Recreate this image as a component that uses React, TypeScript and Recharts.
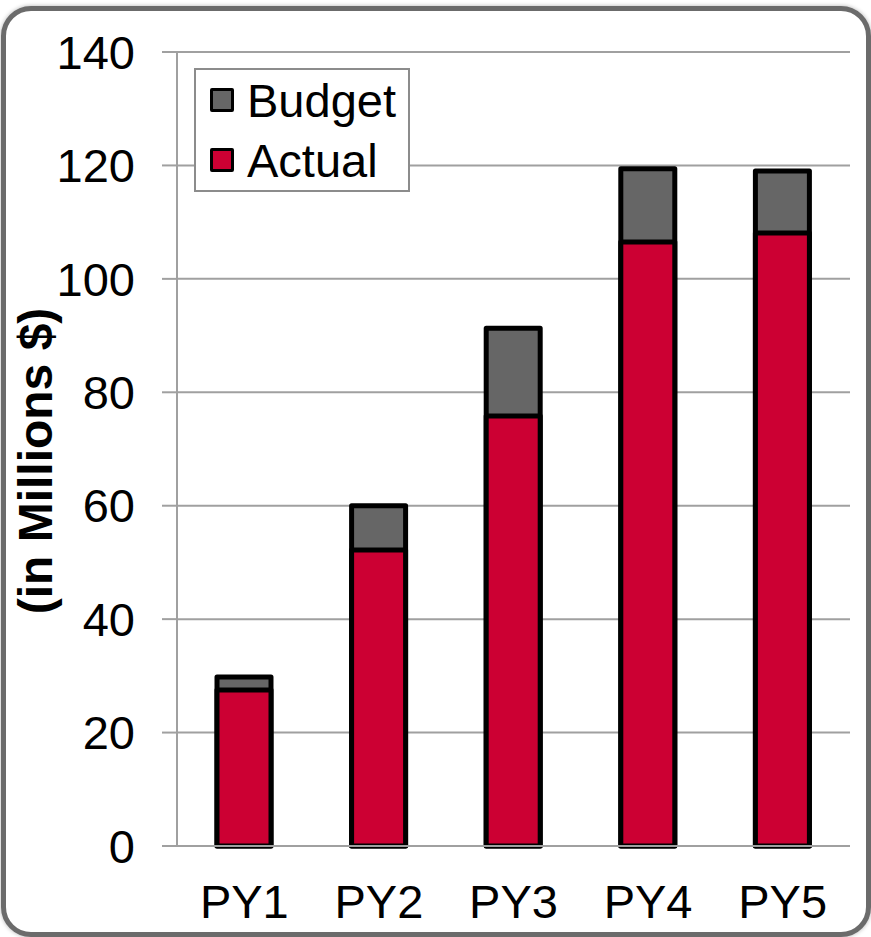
import React from "react";
import { BarChart, Bar, XAxis, YAxis, CartesianGrid, Legend } from "recharts";

const years = ["PY1", "PY2", "PY3", "PY4", "PY5"];
const budget = [29.8, 60, 91.3, 119.4, 119];
const actual = [27.5, 52.2, 75.8, 106.5, 108.1];
const yTicks = [0, 20, 40, 60, 80, 100, 120, 140];
const bounds = [0, 1, 2, 3, 4, 5];
const legendOrder = ["Budget", "Actual"];

const data = years.map((name, i) => ({
  name,
  budget: budget[i],
  actual: actual[i],
  pos: i + 0.5,
}));

const FONT = "'Liberation Sans', Arial, Helvetica, sans-serif";
const GRID = "#a0a0a0";

const renderLegend = (props: any) => {
  const items = [...(props.payload || [])].sort(
    (a: any, b: any) => legendOrder.indexOf(a.value) - legendOrder.indexOf(b.value)
  );
  return (
    <div
      style={{
        border: "2px solid #8c8c8c",
        background: "#fff",
        width: 216,
        height: 124,
        boxSizing: "border-box",
        paddingLeft: 14,
        fontFamily: FONT,
        fontSize: 47,
      }}
    >
      {items.map((entry: any) => (
        <div
          key={entry.value}
          style={{ display: "flex", alignItems: "center", height: 60 }}
        >
          <span
            style={{
              display: "inline-block",
              width: 24,
              height: 24,
              boxSizing: "border-box",
              border: "3px solid #000",
              borderRadius: 2,
              background: entry.color,
              marginRight: 13,
            }}
          />
          <span style={{ color: "#000", lineHeight: 1 }}>{entry.value}</span>
        </div>
      ))}
    </div>
  );
};

const YLabel = (props: any) => {
  const vb = props.viewBox || {};
  const cx = 35;
  const cy = vb.y + vb.height / 2 + 12;
  return (
    <text
      x={cx}
      y={cy}
      transform={`rotate(-90, ${cx}, ${cy})`}
      textAnchor="middle"
      dominantBaseline="central"
      fontFamily={FONT}
      fontWeight="bold"
      fontSize={48}
      fill="#000"
    >
      (in Millions $)
    </text>
  );
};

export default function App() {
  return (
    <div
      style={{
        position: "absolute",
        left: 0,
        top: 0,
        width: 871,
        height: 937,
        background: "#fff",
        overflow: "hidden",
      }}
    >
      <div
        style={{
          position: "absolute",
          left: 1,
          top: 6,
          width: 870,
          height: 931,
          boxSizing: "border-box",
          border: "5px solid #6b6b6b",
          borderRadius: 30,
          boxShadow: "0 0 4px rgba(0,0,0,0.3)",
          background: "#fff",
        }}
      />
      <div style={{ position: "absolute", left: 0, top: 0 }}>
        <BarChart
          width={871}
          height={937}
          data={data}
          margin={{ top: 52, right: 21, bottom: 20, left: 0 }}
          barSize={54}
          barGap={-54}
        >
          <CartesianGrid
            xAxisId="cat"
            vertical={false}
            stroke={GRID}
            strokeWidth={2}
          />
          <XAxis
            xAxisId="bounds"
            dataKey="pos"
            type="number"
            domain={[0, 5]}
            ticks={bounds}
            tick={false}
            tickSize={14}
            height={1}
            axisLine={{ stroke: GRID, strokeWidth: 2 }}
            tickLine={{ stroke: GRID, strokeWidth: 2 }}
          />
          <XAxis
            xAxisId="cat"
            dataKey="name"
            axisLine={false}
            tickLine={false}
            tickSize={0}
            tickMargin={38}
            height={70}
            interval={0}
            tick={{ fill: "#000", fontSize: 47, fontFamily: FONT }}
          />
          <YAxis
            width={177}
            domain={[0, 140]}
            ticks={yTicks}
            interval={0}
            tickSize={15}
            tickMargin={27}
            axisLine={{ stroke: GRID, strokeWidth: 2 }}
            tickLine={{ stroke: GRID, strokeWidth: 2 }}
            tick={{ fill: "#000", fontSize: 47, fontFamily: FONT }}
            label={<YLabel />}
          />
          <Legend
            layout="vertical"
            align="center"
            verticalAlign="middle"
            content={renderLegend}
            wrapperStyle={{ left: 194, top: 68, width: 216, height: 124 }}
          />
          <Bar
            xAxisId="cat"
            dataKey="budget"
            name="Budget"
            fill="#666666"
            stroke="#000"
            strokeWidth={5}
            strokeLinejoin="round"
            isAnimationActive={false}
          />
          <Bar
            xAxisId="cat"
            dataKey="actual"
            name="Actual"
            fill="#cc0033"
            stroke="#000"
            strokeWidth={5}
            strokeLinejoin="round"
            isAnimationActive={false}
          />
        </BarChart>
      </div>
    </div>
  );
}
